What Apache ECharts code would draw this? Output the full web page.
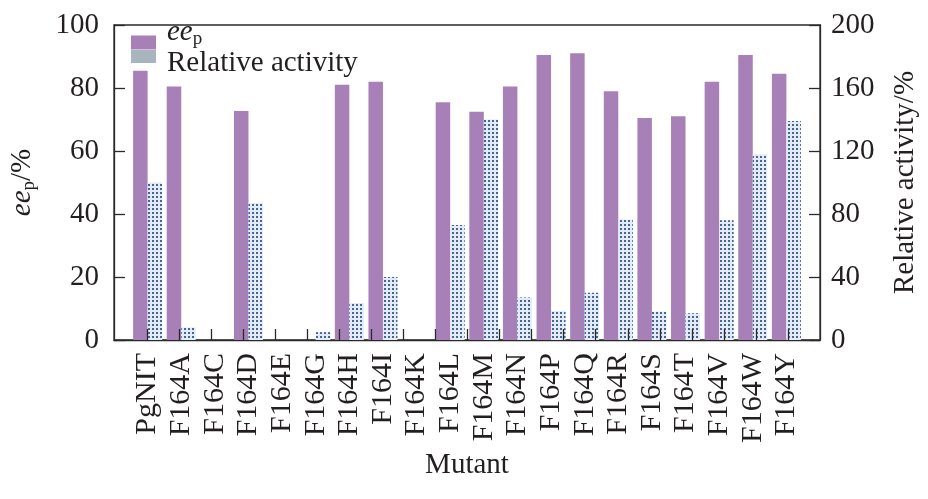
<!DOCTYPE html>
<html>
<head>
<meta charset="utf-8">
<script src="https://cdn.jsdelivr.net/npm/echarts@6/dist/echarts.min.js"></script>
<style>html,body{margin:0;padding:0;background:#fff}#c{width:928px;height:499px}</style>
</head>
<body>
<div id="c"></div>
<script>
const categories = ['PgNIT','F164A','F164C','F164D','F164E','F164G','F164H','F164I','F164K','F164L','F164M','F164N','F164P','F164Q','F164R','F164S','F164T','F164V','F164W','F164Y'];
const eeValues = [85.5, 80.5, 0, 72.7, 0, 0, 81, 82, 0, 75.5, 72.5, 80.5, 90.5, 91, 79, 70.5, 71, 82, 90.5, 84.5];
const activityValues = [100, 8, 0, 87, 0, 5, 23.5, 40, 0, 73, 140, 27, 18.5, 30, 76.5, 18, 17, 76, 118, 139];
const leftTicks = [0, 20, 40, 60, 80, 100];
const rightTicks = [0, 40, 80, 120, 160, 200];

const FONT = 'Liberation Serif';
const TXT = '#231f20';
const AX = '#2a2a2a';

const cats = [''].concat(categories, ['']);
const eeData = [null].concat(eeValues, [null]);
const actData = [null].concat(activityValues, [null]);

const chart = echarts.init(document.getElementById('c'));
chart.setOption({
  animation: false,
  backgroundColor: '#ffffff',
  textStyle: { fontFamily: FONT, color: TXT },
  grid: [
    { left: 113, right: 106, top: 25, bottom: 159, show: true, borderColor: AX, borderWidth: 1.3, backgroundColor: 'transparent' },
    { left: 147, right: 140, top: 25, bottom: 159, show: false }
  ],
  legend: [
    {
      left: 131, top: 16, padding: 0, orient: 'vertical', icon: 'rect', itemWidth: 25, itemHeight: 14,
      data: ['ee'],
      formatter: function () { return '{i|ee}{s|p}\n'; },
      textStyle: {
        fontFamily: FONT, color: TXT, fontSize: 29, lineHeight: 20,
        rich: {
          i: { fontFamily: FONT, fontStyle: 'italic', fontSize: 29, lineHeight: 30, color: TXT, padding: [0, 0, 0, 6] },
          s: { fontFamily: FONT, fontSize: 19, lineHeight: 16, color: TXT, padding: [14, 0, 0, 0] }
        }
      }
    },
    {
      left: 131, top: 27, padding: 0, orient: 'vertical', icon: 'rect', itemWidth: 25, itemHeight: 13,
      data: [{ name: 'Relative activity', itemStyle: { color: '#a9b5be', decal: 'none' } }],
      formatter: function (name) { return '\n{a|' + name + '}'; },
      textStyle: {
        fontFamily: FONT, color: TXT, fontSize: 29, lineHeight: 13,
        rich: { a: { fontFamily: FONT, fontSize: 29, lineHeight: 30, color: TXT, padding: [0, 0, 0, 6] } }
      }
    }
  ],
  xAxis: [
    {
      type: 'category', gridIndex: 0, data: cats, boundaryGap: false,
      axisLine: { lineStyle: { color: AX, width: 1.3 } },
      axisTick: { show: false },
      axisLabel: { rotate: 90, interval: 0, fontSize: 30, margin: 13, color: TXT, fontFamily: FONT },
      name: 'Mutant', nameLocation: 'middle', nameGap: 110,
      nameTextStyle: { fontSize: 29, color: TXT, fontFamily: FONT }
    },
    {
      type: 'value', gridIndex: 1, min: 0, max: 20, interval: 1, z: 6,
      axisLine: { show: false },
      axisTick: { show: true, inside: true, length: 11, lineStyle: { color: AX, width: 1.3 } },
      axisLabel: { show: false },
      splitLine: { show: false }
    }
  ],
  yAxis: [
    {
      type: 'value', gridIndex: 0, position: 'left', min: 0, max: 100, interval: 20,
      axisLine: { show: true, lineStyle: { color: AX, width: 1.3 } },
      axisTick: { show: true, inside: true, length: 11, lineStyle: { color: AX, width: 1.3 } },
      axisLabel: { fontSize: 29, margin: 15, color: TXT, fontFamily: FONT,
        formatter: function (v) { return leftTicks.indexOf(v) >= 0 ? String(v) : ''; } },
      splitLine: { show: false },
      name: '{i|ee}{s|p}{n|/%}', nameLocation: 'middle', nameGap: 75,
      nameTextStyle: {
        fontFamily: FONT, color: TXT, fontSize: 29,
        rich: {
          i: { fontFamily: FONT, fontStyle: 'italic', fontSize: 29, color: TXT },
          s: { fontFamily: FONT, fontSize: 19, color: TXT, padding: [14, 0, 0, 0] },
          n: { fontFamily: FONT, fontSize: 29, color: TXT }
        }
      }
    },
    {
      type: 'value', gridIndex: 0, position: 'right', min: 0, max: 200, interval: 40,
      axisLine: { show: true, lineStyle: { color: AX, width: 1.3 } },
      axisTick: { show: true, inside: true, length: 11, lineStyle: { color: AX, width: 1.3 } },
      axisLabel: { fontSize: 29, margin: 11, color: TXT, fontFamily: FONT,
        formatter: function (v) { return rightTicks.indexOf(v) >= 0 ? String(v) : ''; } },
      splitLine: { show: false },
      name: 'Relative activity/%', nameLocation: 'middle', nameGap: 71,
      nameTextStyle: { fontFamily: FONT, color: TXT, fontSize: 29 }
    },
    { type: 'value', gridIndex: 1, show: false, min: 0, max: 1 }
  ],
  series: [
    {
      name: 'ee', type: 'bar', xAxisIndex: 0, yAxisIndex: 0, data: eeData,
      barWidth: 14.5, barGap: '0%',
      itemStyle: { color: '#a880b8' }
    },
    {
      name: 'Relative activity', type: 'bar', xAxisIndex: 0, yAxisIndex: 1, data: actData,
      barWidth: 14.5, barGap: '0%',
      itemStyle: {
        color: '#e4ebf4',
        decal: { symbol: 'rect', symbolSize: 1, dashArrayX: [1.6, 1.6], dashArrayY: [1.6, 1.6], color: '#43669a' }
      }
    }
  ]
});
</script>
</body>
</html>
